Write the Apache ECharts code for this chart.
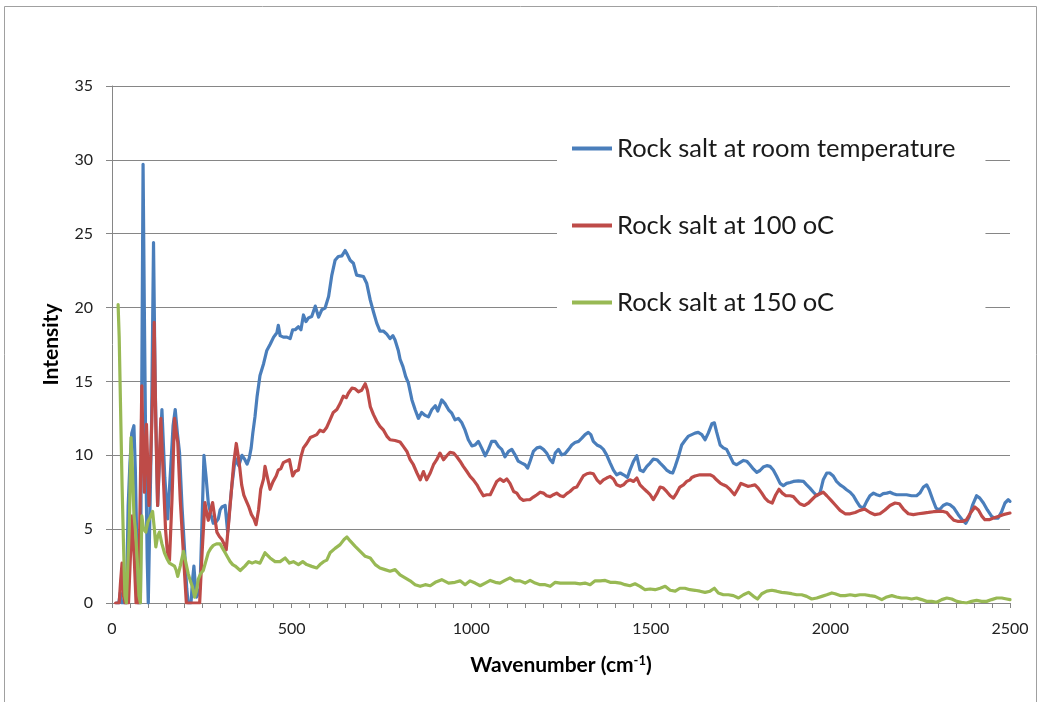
<!DOCTYPE html>
<html>
<head>
<meta charset="utf-8">
<script src="https://cdn.jsdelivr.net/npm/echarts@6/dist/echarts.min.js"></script>
<style>
html,body{margin:0;padding:0;background:#fff;}
#chart{width:1042px;height:702px;}
</style>
</head>
<body>
<div id="chart"></div>
<script>
const seriesNames = ['Rock salt at room temperature', 'Rock salt at 100 oC', 'Rock salt at 150 oC'];
const xTicks = [0, 500, 1000, 1500, 2000, 2500];
const yTicks = [0, 5, 10, 15, 20, 25, 30, 35];

// [wavenumber, intensity]
const roomTemp = [
[12,0],[19,0],[23,0.7],[27,0],[40,0],[45,6.6],[50,9.5],[55,11.5],[61,12.0],[65,9],[69,4],[73,0],[79,0],[83,15],[86.5,29.7],[90,20],[94,10],[98,3],[101,0],[105,0],[110,12],[115.6,24.4],[120,15],[127,6.6],[133,10],[139,13.1],[147,8.5],[155,5.7],[163,9],[170,12],[176,13.1],[182,11.5],[188,10.2],[195,6.5],[202,3.6],[208,1],[212,0],[220,0],[224,1.5],[228,2.5],[232,1.2],[235,0.4],[240,0.6],[245,1],[250,5],[256,10],[262,8.5],[268,6.8],[275,6.0],[282,5.4],[290,5.5],[296,5.7],[301,6.3],[306,6.5],[315,6.6],[322,4.8],[328,6.5],[334,8.0],[343,9.8],[348,9.5],[353,9.3],[358,9.7],[362,10.0],[370,9.7],[376,9.4],[382,9.8],[387.5,10.5],
[392,11.5],[398,12.6],[404,14.0],[412,15.4],[422,16.2],[431,17.1],[440,17.5],[450,18.0],[459,18.3],[463,18.8],[468,18.1],[477,18.0],[487,18.0],[496,17.9],[503,18.5],[510,18.5],[519,18.7],[526,18.5],[533,19.5],[540,19.05],[547,19.3],[556,19.4],[566,20.1],[575,19.35],[584,19.85],[593,19.96],[603,20.75],[612,22.2],[621,23.2],[630,23.46],[640,23.5],[649,23.86],[655,23.6],[663,23.2],[672,23.0],[681,22.2],[691,22.15],[700,22.1],[709,21.65],[719,20.5],[728,19.7],[737,18.95],[746,18.4],[756,18.4],[765,18.2],[774,17.9],[782,18.1],[788,17.8],[797,17.1],[802,16.5],[810,16.0],[818,15.3],[825,14.9],[835,13.75],[844,13.08],[853,12.5],[862,12.9],[872,12.7],[881,12.6],[890,13.08],[900,13.35],[907,13.0],[918,13.75],[927,13.5],[937,13.08],[946,12.85],[955,12.4],[964,12.5],[974,12.2],[983,11.7],[992,11.05],[1002,10.64],[1011,10.7],[1020,10.94],[1029,10.5],[1039,9.97],[1048,10.4],[1057,10.94],[1067,10.94],[1076,10.6],[1085,10.4],[1094,9.9],[1104,10.26],[1113,10.4],[1122,10.03],[1131,9.6],[1141,9.47],[1150,9.36],[1157,9.13],[1164,9.6],[1173,10.26],[1183,10.5],[1192,10.55],[1201,10.4],[1210,10.15],[1220,9.7],[1227,9.5],[1234,10.15],[1243,10.4],[1252,10.03],[1261,10.1],[1271,10.4],[1280,10.7],[1289,10.87],[1299,10.94],[1308,11.16],[1317,11.4],[1326,11.55],[1333,11.4],[1340,10.94],[1350,10.7],[1359,10.6],[1368,10.4],[1377,10.03],[1387,9.47],[1396,9.0],[1405,8.68],[1415,8.8],[1424,8.68],[1435,8.5],[1442,9.0],[1452,9.6],[1461,9.97],[1470,9.0],[1479,8.9],[1489,9.25],[1498,9.47],[1507,9.74],[1517,9.7],[1526,9.47],[1535,9.25],[1544,9.0],[1554,8.84],[1561,8.8],[1568,9.25],[1577,9.92],[1586,10.7],[1595,11.0],[1605,11.3],[1614,11.4],[1623,11.5],[1632,11.55],[1642,11.4],[1651,11.05],[1660,11.5],[1670,12.13],[1677,12.2],[1683,11.6],[1693,10.7],[1702,10.5],[1711,10.4],[1721,9.92],[1730,9.47],[1739,9.36],[1748,9.5],[1758,9.65],[1767,9.6],[1776,9.36],[1786,9.06],[1795,8.84],[1804,8.97],[1813,9.2],[1823,9.3],[1832,9.25],[1841,9.0],[1850,8.6],[1860,8.1],[1869,7.94],[1878,8.1],[1888,8.16],[1897,8.23],[1911,8.27],[1925,8.23],[1934,8.0],[1943,7.78],[1953,7.5],[1962,7.26],[1971,7.44],[1980,8.34],[1990,8.8],[1998,8.8],[2008,8.6],[2017,8.23],[2027,8.0],[2036,7.85],[2045,7.67],[2055,7.5],[2064,7.26],[2073,6.88],[2082,6.54],[2092,6.43],[2101,6.88],[2110,7.26],[2120,7.44],[2129,7.33],[2138,7.26],[2147,7.4],[2157,7.44],[2166,7.5],[2175,7.4],[2184,7.33],[2198,7.33],[2212,7.33],[2226,7.26],[2240,7.26],[2249,7.44],[2259,7.85],[2268,8.0],[2275,7.67],[2285,6.99],[2294,6.43],[2303,6.3],[2314,6.6],[2324,6.72],[2333,6.65],[2344,6.43],[2356,5.98],[2368,5.6],[2377,5.4],[2387,5.86],[2396,6.65],[2407,7.26],[2416,7.1],[2426,6.77],[2437,6.3],[2449,5.86],[2458,5.75],[2467,5.75],[2477,6.2],[2486,6.77],[2495,6.99],[2500,6.88]
];

const temp100 = [
[10,0],[20,0],[24,1.5],[28,2.7],[32,0.5],[36,0],[46,0],[51,3],[56,5.9],[62,3],[67,0],[74,0],[79,8],[83,14.7],[87,10],[90,7.5],[93,10],[96,12.1],[100,9],[103,6.6],[108,10],[113,14],[117.5,19],[122,12],[127,6.6],[132,10],[136,12.5],[142,9],[149,5],[154,3.5],[160,2.9],[167,7],[174,12.5],[179,11.5],[183,10.9],[190,7],[196,4.5],[202,2],[207,0],[244,0],[251,3.5],[258.6,6.8],[263,6.2],[268,5.6],[274,6.2],[280,6.8],[286,5.8],[292,4.8],[299,4.5],[306,4.3],[312,4.0],[318,3.6],[325,5.5],[332,7.5],[339,9.5],[346,10.8],[351,10],[356,9.1],[361,8],[367,7.3],[374,6.9],[381,6.5],[388,6],[395,5.7],[401,5.3],[408,6.3],[414,7.7],[422,8.4],[426,9.25],[433,8.46],[440,7.7],[448,8.2],[457,8.6],[463,9.0],[470,9.1],[477,9.5],[485,9.6],[494,9.7],[503,8.6],[510,8.9],[519,9.0],[526,9.9],[533,10.5],[542,10.8],[552,11.2],[561,11.3],[570,11.4],[579,11.7],[589,11.6],[598,11.9],[607,12.4],[616,12.9],[626,13.1],[635,13.5],[644,14.0],[652,13.9],[658,14.2],[668,14.55],[677,14.5],[686,14.3],[695,14.4],[705,14.84],[711,14.4],[719,13.3],[728,12.75],[737,12.3],[746,11.96],[756,11.7],[765,11.3],[774,11.05],[788,11.0],[802,10.9],[811,10.6],[821,10.26],[830,9.7],[839,9.36],[849,8.8],[858,8.34],[867,8.9],[876,8.34],[886,8.8],[895,9.36],[904,9.7],[913,10.15],[923,9.7],[932,9.97],[941,10.2],[951,10.15],[960,9.9],[969,9.6],[978,9.25],[988,8.9],[997,8.57],[1006,8.34],[1016,8.0],[1025,7.6],[1034,7.26],[1043,7.33],[1053,7.33],[1062,7.78],[1071,8.23],[1080,8.4],[1090,8.23],[1099,8.4],[1108,8.1],[1118,7.55],[1127,7.44],[1136,7.1],[1145,6.95],[1155,6.99],[1164,7.0],[1173,7.17],[1183,7.33],[1192,7.5],[1201,7.44],[1210,7.26],[1220,7.2],[1229,7.33],[1238,7.44],[1248,7.26],[1257,7.2],[1266,7.4],[1275,7.55],[1285,7.78],[1294,7.85],[1303,8.23],[1312,8.6],[1322,8.75],[1331,8.8],[1340,8.75],[1350,8.34],[1359,8.12],[1368,8.34],[1377,8.46],[1387,8.57],[1396,8.4],[1405,8.0],[1415,7.9],[1424,8.0],[1433,8.23],[1442,8.34],[1452,8.23],[1461,8.46],[1470,8.0],[1479,7.78],[1489,7.55],[1498,7.33],[1507,7.0],[1517,7.4],[1526,7.85],[1535,7.78],[1544,7.55],[1554,7.26],[1563,7.1],[1572,7.44],[1581,7.85],[1591,8.0],[1600,8.23],[1609,8.34],[1614,8.5],[1623,8.6],[1637,8.68],[1651,8.68],[1665,8.68],[1674,8.57],[1683,8.34],[1693,8.12],[1702,8.0],[1711,7.9],[1721,7.67],[1733,7.33],[1742,7.7],[1751,8.1],[1760,8.0],[1770,7.9],[1779,7.94],[1790,8.0],[1799,7.78],[1809,7.44],[1818,7.1],[1827,6.88],[1838,6.77],[1848,7.33],[1857,7.7],[1866,7.44],[1876,7.26],[1888,7.26],[1897,7.2],[1906,6.95],[1915,6.72],[1927,6.6],[1939,6.77],[1948,6.99],[1959,7.26],[1971,7.4],[1980,7.5],[1990,7.26],[2002,6.95],[2013,6.65],[2017,6.54],[2027,6.27],[2041,6.04],[2055,6.04],[2069,6.13],[2082,6.27],[2096,6.36],[2110,6.13],[2124,5.98],[2138,6.04],[2152,6.3],[2166,6.6],[2180,6.77],[2192,6.72],[2203,6.36],[2217,6.04],[2231,5.98],[2245,6.04],[2259,6.09],[2273,6.13],[2287,6.18],[2300,6.2],[2314,6.2],[2324,6.13],[2333,5.86],[2344,5.6],[2356,5.52],[2368,5.52],[2379,5.64],[2390,6.09],[2402,6.5],[2412,6.3],[2421,5.9],[2430,5.64],[2442,5.64],[2454,5.75],[2467,5.86],[2481,5.98],[2500,6.09]
];

const temp150 = [
[17,20.2],[20,18],[24,13],[28,8],[32,4],[36,0.5],[40,0],[44,0],[48,5],[53,11.2],[57,9],[61,6],[65,5],[70,3],[75,0.5],[79,0],[83,5.9],[88,5.0],[94,4.8],[100,5.5],[106,5.8],[113,6.2],[118,5],[122,3.8],[127,4.5],[132,4.8],[139,4],[146,3.4],[153,3],[160,2.7],[167,2.6],[174,2.5],[179,2.2],[183,1.8],[190,2.5],[199,3.5],[205,2.8],[212,2.0],[218,1.5],[224,1.1],[230,0.4],[235,0.8],[240,1.6],[247,2.0],[254,2.2],[261,2.8],[268,3.4],[275,3.7],[282,3.9],[291,4.0],[301,4.0],[308,3.7],[315,3.4],[322,3.1],[329,2.8],[336,2.6],[343,2.5],[350,2.35],[357,2.2],[370,2.5],[381,2.8],[390,2.7],[400,2.8],
[412,2.7],[426,3.4],[440,3.05],[454,2.8],[468,2.8],[482,3.05],[494,2.7],[505,2.8],[519,2.6],[531,2.8],[542,2.6],[556,2.48],[570,2.37],[579,2.6],[589,2.8],[598,2.9],[607,3.4],[621,3.7],[635,3.95],[646,4.3],[654,4.47],[663,4.2],[677,3.84],[691,3.5],[705,3.16],[719,3.05],[733,2.6],[746,2.37],[760,2.26],[774,2.15],[788,2.26],[802,1.9],[816,1.7],[830,1.5],[844,1.24],[858,1.13],[872,1.24],[886,1.17],[900,1.4],[918,1.58],[937,1.35],[955,1.4],[969,1.5],[983,1.24],[997,1.5],[1011,1.35],[1025,1.17],[1039,1.35],[1053,1.53],[1067,1.4],[1080,1.35],[1094,1.53],[1108,1.7],[1122,1.5],[1136,1.5],[1150,1.35],[1164,1.53],[1178,1.35],[1192,1.24],[1206,1.24],[1220,1.13],[1234,1.4],[1248,1.35],[1261,1.35],[1275,1.35],[1289,1.35],[1303,1.3],[1317,1.35],[1331,1.24],[1345,1.5],[1359,1.5],[1373,1.53],[1387,1.4],[1401,1.4],[1415,1.35],[1428,1.24],[1442,1.17],[1456,1.3],[1470,1.13],[1484,0.9],[1498,0.95],[1512,0.9],[1526,1.0],[1540,1.13],[1554,0.86],[1568,0.8],[1581,1.0],[1595,1.0],[1609,0.9],[1623,0.86],[1637,0.8],[1651,0.72],[1665,0.8],[1677,1.0],[1688,0.68],[1702,0.56],[1716,0.56],[1730,0.5],[1744,0.34],[1758,0.56],[1772,0.72],[1786,0.45],[1797,0.27],[1809,0.63],[1823,0.8],[1837,0.86],[1850,0.8],[1864,0.72],[1878,0.68],[1892,0.63],[1906,0.56],[1920,0.56],[1934,0.45],[1948,0.27],[1962,0.34],[1976,0.45],[1990,0.56],[2004,0.68],[2013,0.63],[2027,0.5],[2041,0.5],[2055,0.56],[2069,0.5],[2082,0.56],[2096,0.56],[2110,0.5],[2124,0.45],[2143,0.23],[2157,0.41],[2171,0.5],[2184,0.41],[2198,0.34],[2212,0.34],[2226,0.27],[2240,0.34],[2254,0.23],[2268,0.11],[2282,0.11],[2296,0.05],[2310,0.23],[2324,0.34],[2338,0.27],[2352,0.11],[2365,0.05],[2379,0.0],[2393,0.11],[2407,0.18],[2421,0.11],[2435,0.11],[2449,0.23],[2463,0.34],[2477,0.34],[2491,0.27],[2500,0.23]
];

const colors = ['#4A7EBB', '#BE4B48', '#98B954'];
const seriesData = [roomTemp, temp100, temp150];

const chart = echarts.init(document.getElementById('chart'), null, {renderer: 'canvas'});
const font = 'Lato, "Open Sans", sans-serif';
const gridColor = '#868686';

chart.setOption({
  animation: false,
  backgroundColor: '#fff',
  color: colors,
  graphic: [{
    type: 'rect', silent: true, z: -1,
    shape: {x: 4.5, y: 6.5, width: 1032, height: 760},
    style: {fill: 'none', stroke: '#a0a0a0', lineWidth: 1}
  }],
  grid: {left: 112, right: 32, top: 86, bottom: 99, containLabel: false},
  legend: {
    orient: 'vertical', left: 557, top: 121,
    padding: [14, 30, 14, 15],
    backgroundColor: '#fff',
    itemGap: 50, itemWidth: 40, itemHeight: 4, icon: 'rect',
    textStyle: {fontFamily: font, fontSize: 25.5, color: '#1a1a1a', lineHeight: 27, padding: [0, 0, 0, 0]},
    data: seriesNames
  },
  xAxis: {
    type: 'value', min: xTicks[0], max: xTicks[xTicks.length - 1], interval: 50,
    name: '{b|Wavenumber (cm}{s|-1}{b|)}',
    nameLocation: 'middle', nameGap: 51,
    nameTextStyle: {
      rich: {
        b: {fontFamily: font, fontSize: 21, fontWeight: 'bold', color: '#000'},
        s: {fontFamily: font, fontSize: 13, fontWeight: 'bold', color: '#000', verticalAlign: 'top', padding: [0, 0, 9, 0]}
      }
    },
    axisLine: {show: true, onZero: false, lineStyle: {color: gridColor, width: 1}},
    axisTick: {show: true, length: 5, inside: false, lineStyle: {color: gridColor, width: 1}},
    axisLabel: {fontFamily: font, fontSize: 16, color: '#222', margin: 18, showMaxLabel: true,
      formatter: v => (xTicks.indexOf(v) >= 0 ? String(v) : '')},
    splitLine: {show: false}
  },
  yAxis: {
    type: 'value', min: yTicks[0], max: yTicks[yTicks.length - 1], interval: 5,
    name: 'Intensity', nameLocation: 'middle', nameGap: 50,
    nameTextStyle: {fontFamily: font, fontSize: 21, fontWeight: 'bold', color: '#000'},
    axisLine: {show: true, onZero: false, lineStyle: {color: gridColor, width: 1}},
    axisTick: {show: true, length: 6, inside: false, lineStyle: {color: gridColor}},
    axisLabel: {fontFamily: font, fontSize: 16, color: '#222', margin: 19, formatter: v => String(v)},
    splitLine: {show: true, lineStyle: {color: gridColor, width: 1}}
  },
  series: seriesNames.map((name, i) => ({
    name: name,
    type: 'line',
    data: seriesData[i],
    showSymbol: false,
    symbol: 'none',
    smooth: false,
    lineStyle: {width: 3.2, color: colors[i], join: 'round', cap: 'round'},
    itemStyle: {color: colors[i]},
    z: 2 + i
  }))
});
</script>
</body>
</html>
